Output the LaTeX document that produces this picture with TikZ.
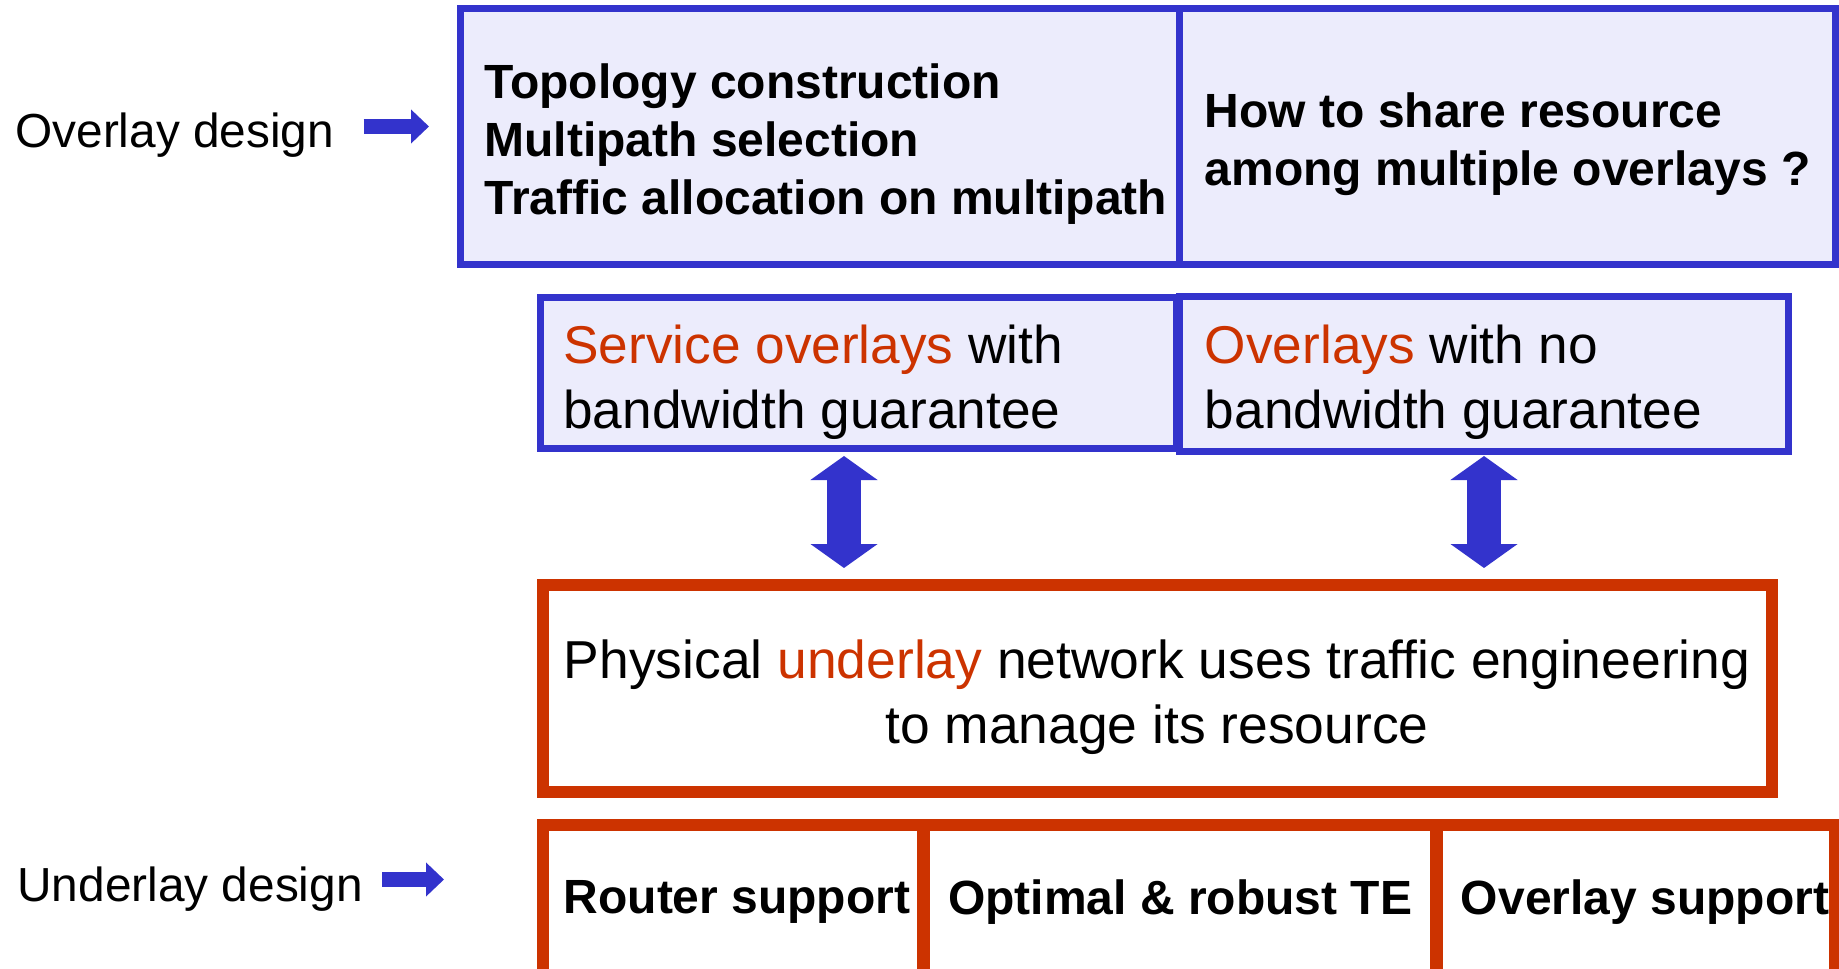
\documentclass[tikz,border=0pt]{standalone}
\usepackage{fontspec}
\setmainfont{Liberation Sans}
\usepackage{tikz}
\usetikzlibrary{positioning, arrows.meta}
\definecolor{ovblue}{RGB}{51,51,204}
\definecolor{udred}{RGB}{204,51,0}
\definecolor{ovfill}{RGB}{236,236,252}

\begin{document}
\begin{tikzpicture}[x=0.5pt, y=-0.5pt,
        bluebox/.style = {draw=ovblue, fill=ovfill, line width=3.5pt, inner sep=0pt, anchor=north west},
        redbox/.style = {draw=udred, line width=6pt, inner sep=0pt, anchor=north west, font=\fontsize{24}{29}\selectfont\bfseries},
        boldtext/.style = {inner sep=0pt, anchor=north west, align=left, font=\fontsize{24}{29}\selectfont\bfseries},
        plaintext/.style = {inner sep=0pt, anchor=north west, align=left, font=\fontsize{26.6}{32.25}\selectfont},
        sidelabel/.style = {inner sep=0pt, anchor=north west, font=\fontsize{23.9}{29}\selectfont},
        sidearrow/.style = {ovblue, line width=7.5pt, -{Triangle[width=16.5pt, length=9pt]}},
        bothways/.style = {ovblue, line width=17pt, {Triangle[width=33pt, length=12pt]}-{Triangle[width=33pt, length=12pt]}},
    ]
        \useasboundingbox (0,0) rectangle (1839,968);

        \node[bluebox, minimum width=359.5pt, minimum height=128pt] (topl) at (457,5) {};
        \node[bluebox, minimum width=328pt, minimum height=128pt] (topr) at (1176,5) {};
        \node[bluebox, minimum width=318pt, minimum height=75.5pt] (svc) at (537,294) {};
        \node[bluebox, minimum width=304.5pt, minimum height=77.5pt] (nobw) at (1176,293) {};
        \node[redbox, minimum width=614.5pt, minimum height=103.5pt] (phys) at (537,579) {};
        \node[redbox, minimum width=190pt, minimum height=77pt] (router) at (537,819) {\hspace*{4pt}Router support};
        \node[redbox, minimum width=256pt, minimum height=77pt] (opt) at (918,819) {Optimal \& robust TE};
        \node[redbox, minimum width=199pt, minimum height=77pt] (ovsup) at (1431,819) {\hspace*{9pt}Overlay support};

        \node[boldtext] (topltext) at (484,63) {Topology construction\\Multipath selection\\Traffic allocation on multipath};
        \node[boldtext] (toprtext) at (1204.5,92) {How to share resource\\among multiple overlays ?};
        \node[plaintext] (svctext) at (563,325) {\textcolor{udred}{Service overlays} with\\bandwidth guarantee};
        \node[plaintext] (nobwtext) at (1204.5,325) {\textcolor{udred}{Overlays} with no\\bandwidth guarantee};
        \node[plaintext, align=center, anchor=north, font=\fontsize{26.7}{32.5}\selectfont] (phystext) at (1157,639) {Physical \textcolor{udred}{underlay} network uses traffic engineering\\to manage its resource};

        \node[sidelabel] (ovlabel) at (15,112) {Overlay design};
        \node[sidelabel] (unlabel) at (17,866) {Underlay design};
        \coordinate (ovtip) at (429,126.5);
        \coordinate (untip) at (444,879.5);
        \draw[sidearrow, shorten <=14.5pt] (ovlabel.east |- ovtip) -- (ovtip);
        \draw[sidearrow, shorten <=9.5pt] (unlabel.east |- untip) -- (untip);

        \coordinate (leftx) at (844,0);
        \coordinate (rightx) at (1484,0);
        \draw[bothways, shorten <=2pt, shorten >=5.5pt] (svc.south -| leftx) -- (phys.north -| leftx);
        \draw[bothways, shorten <=0.5pt, shorten >=5.5pt] (nobw.south -| rightx) -- (phys.north -| rightx);
    \end{tikzpicture}
\end{document}
